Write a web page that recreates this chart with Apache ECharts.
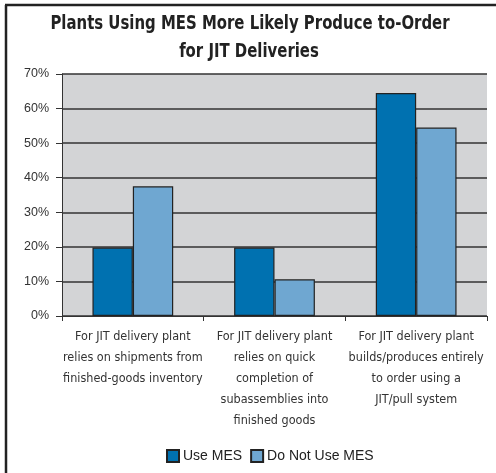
<!DOCTYPE html>
<html><head><meta charset="utf-8">
<script src="https://cdn.jsdelivr.net/npm/echarts@6/dist/echarts.min.js"></script>
<style>html,body{margin:0;padding:0;background:#fff}#c{width:496px;height:473px}</style>
</head><body><div id="c"></div>
<script>
var titleLines = ['Plants Using MES More Likely Produce to-Order', 'for JIT Deliveries'];
var categories = [
  'For JIT delivery plant\nrelies on shipments from\nfinished-goods inventory',
  'For JIT delivery plant\nrelies on quick\ncompletion of\nsubassemblies into\nfinished goods',
  'For JIT delivery plant\nbuilds/produces entirely\nto order using a\nJIT/pull system'
];
var seriesNames = ['Use MES', 'Do Not Use MES'];
var useMES = [19.8, 19.8, 64.5];
var notUseMES = [37.5, 10.6, 54.5];
var yTicks = [0, 10, 20, 30, 40, 50, 60, 70];

var narrow = '"DejaVu Sans Condensed", "Liberation Sans Narrow", sans-serif';
var chart = echarts.init(document.getElementById('c'), null, {renderer: 'canvas'});
chart.setOption({
  backgroundColor: '#fff',
  animation: false,
  graphic: [
    {type: 'line', shape: {x1: 5, y1: 5, x2: 496, y2: 5}, style: {stroke: '#222', lineWidth: 2.5}, silent: true},
    {type: 'line', shape: {x1: 6, y1: 5, x2: 6, y2: 473}, style: {stroke: '#222', lineWidth: 2.5}, silent: true},
    {type: 'text', x: 250, y: 24, scaleX: 0.85, silent: true,
     style: {text: titleLines[0], textAlign: 'center', textVerticalAlign: 'middle', fontFamily: narrow, fontWeight: 'bold', fontSize: 19.5, fill: '#222'}},
    {type: 'text', x: 249, y: 52, scaleX: 0.85, silent: true,
     style: {text: titleLines[1], textAlign: 'center', textVerticalAlign: 'middle', fontFamily: narrow, fontWeight: 'bold', fontSize: 19.5, fill: '#222'}}
  ],
  legend: {
    bottom: 5, left: 161,
    data: seriesNames,
    icon: 'rect', itemWidth: 12, itemHeight: 12, itemGap: 8,
    textStyle: {fontFamily: '"Liberation Sans", Arial, sans-serif', fontSize: 14, color: '#222', padding: [0, 0, 0, -1]}
  },
  grid: {left: 62, right: 9, top: 74, bottom: 157, show: true, backgroundColor: '#d3d4d6', borderWidth: 0},
  xAxis: {
    type: 'category', data: categories,
    axisLine: {lineStyle: {color: '#333', width: 1}},
    axisTick: {show: true, length: 5, lineStyle: {color: '#333'}},
    axisLabel: {interval: 0, margin: 10, fontFamily: narrow, fontSize: 12.5, lineHeight: 21, color: '#333', verticalAlign: 'top'}
  },
  yAxis: {
    type: 'value', min: yTicks[0], max: yTicks[yTicks.length - 1], interval: 10,
    axisLine: {show: true, lineStyle: {color: '#333', width: 1}},
    axisTick: {show: true, length: 6, lineStyle: {color: '#333'}},
    splitLine: {show: true, lineStyle: {color: '#333', width: 1.5}},
    axisLabel: {formatter: '{value}%', margin: 13, fontFamily: '"Liberation Sans", Arial, sans-serif', fontSize: 12.5, color: '#333'}
  },
  series: [
    {name: seriesNames[0], type: 'bar', data: useMES, barGap: '0%', barCategoryGap: '43%',
     itemStyle: {color: '#0071b0', borderColor: '#222', borderWidth: 1.2}},
    {name: seriesNames[1], type: 'bar', data: notUseMES,
     itemStyle: {color: '#6fa7d1', borderColor: '#222', borderWidth: 1.2}}
  ]
});
</script></body></html>
